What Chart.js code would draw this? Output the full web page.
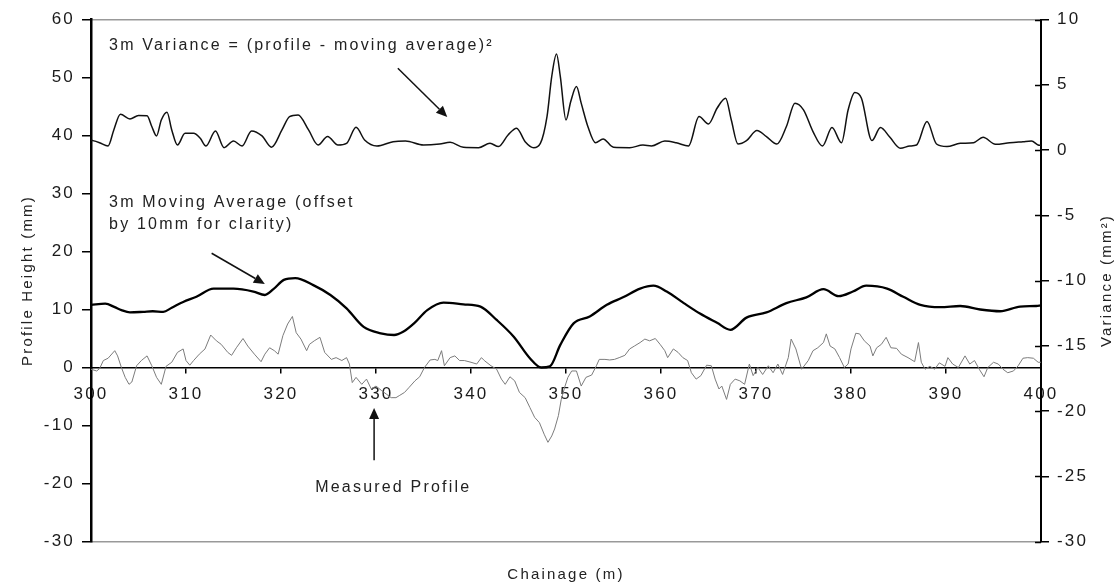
<!DOCTYPE html>
<html>
<head>
<meta charset="utf-8">
<script src="https://cdn.jsdelivr.net/npm/chart.js@4.4.0/dist/chart.umd.min.js"></script>
<style>
  html, body { margin: 0; padding: 0; background: #fff; }
  #wrap { width: 1119px; height: 585px; position: relative; }
</style>
</head>
<body>
<div id="wrap"><canvas id="profileChart"></canvas></div>
<script>
// measured profile (mm) against chainage (m)
const profileChainage = [300.0,300.6,300.9,301.3,301.8,302.5,302.8,303.2,303.6,304.0,304.3,304.8,305.3,305.9,306.4,306.9,307.4,307.9,308.5,309.1,309.7,310.0,310.4,310.8,311.4,312.0,312.6,313.2,313.7,314.4,314.8,315.3,316.0,316.5,317.2,317.9,318.3,318.8,319.3,319.7,320.2,320.7,321.2,321.6,322.1,322.7,323.0,323.5,324.1,324.6,325.3,325.8,326.4,326.9,327.2,327.5,327.9,328.5,329.0,329.5,330.0,330.6,331.1,331.6,332.1,332.5,333.0,333.5,334.1,334.6,335.1,335.7,336.2,336.5,336.9,337.2,337.8,338.3,338.8,339.3,340.0,340.6,341.1,341.4,342.1,342.7,343.2,343.6,344.1,344.6,345.1,345.7,346.2,346.7,347.2,347.7,348.1,348.5,348.8,349.2,349.5,349.9,350.2,350.6,351.1,351.6,352.1,352.7,353.2,353.5,354.1,354.6,355.1,355.6,356.2,356.7,357.2,357.8,358.3,358.8,359.4,359.9,360.4,360.7,361.3,361.8,362.3,362.8,363.2,363.7,364.2,364.8,365.3,365.7,366.1,366.4,366.9,367.3,367.8,368.3,368.8,369.3,369.7,370.2,370.7,371.3,371.8,372.3,372.8,373.4,373.7,374.2,374.8,375.5,376.0,376.5,377.1,377.4,377.8,378.3,378.8,379.3,379.7,380.0,380.5,380.9,381.4,382.0,382.3,382.7,383.2,383.7,384.2,384.8,385.3,386.0,386.7,387.1,387.4,387.8,388.3,388.8,389.3,389.9,390.2,390.7,391.3,392.0,392.5,393.0,393.5,394.0,394.4,395.0,395.5,396.0,396.5,397.1,397.6,398.1,398.6,399.2,399.7,400.0];
const profileHeight = [-0.3,-0.6,-0.2,1.2,1.6,2.9,2.0,0.0,-1.7,-2.9,-2.5,0.3,1.2,2.0,0.3,-1.7,-2.9,0.2,0.9,2.6,3.2,1.2,0.4,1.2,2.3,3.2,5.6,4.6,4.0,2.6,2.1,3.4,5.0,3.7,2.3,1.0,2.3,3.4,2.9,2.3,5.5,7.5,8.8,6.0,4.9,2.9,4.0,4.6,5.2,2.6,1.4,1.7,1.2,1.7,0.6,-2.6,-1.7,-2.9,-2.0,-3.7,-3.2,-4.0,-4.6,-5.2,-5.2,-4.8,-4.3,-3.4,-2.3,-1.6,0.0,1.3,1.4,1.2,2.9,0.3,1.7,2.0,1.2,1.2,0.9,0.6,1.7,1.2,0.3,-0.3,-2.0,-2.9,-1.6,-2.3,-4.3,-5.2,-6.9,-8.6,-9.5,-11.5,-12.9,-11.8,-10.6,-8.3,-5.5,-3.2,-1.7,-0.6,-0.6,-3.2,-1.7,-1.3,0.3,1.4,1.4,1.3,1.4,1.7,2.1,3.2,3.7,4.3,4.9,4.6,5.0,4.0,2.9,1.7,3.2,2.6,1.7,1.2,-0.9,-2.0,-1.4,0.4,0.3,-2.0,-3.7,-3.2,-5.5,-2.9,-2.0,-2.3,-2.9,0.6,-1.4,0.0,-1.2,0.3,-0.9,0.6,-1.2,1.7,4.9,3.2,-0.3,1.2,2.9,3.4,4.3,5.8,3.7,3.2,1.7,0.0,0.6,3.2,5.9,5.8,4.6,3.7,2.0,3.4,4.0,5.2,3.4,3.3,2.3,1.7,1.0,4.3,0.9,-0.3,0.2,-0.3,0.8,0.2,1.7,0.6,0.0,2.0,0.6,1.2,-0.3,-1.6,0.0,0.9,0.6,-0.3,-0.9,-0.6,0.3,1.6,1.7,1.6,0.9,0.9];

// 3m moving average, as plotted (already offset by +10 mm)
const avgChainage = [300.0,301.5,302.5,303.2,304.1,305.5,306.5,307.6,308.5,309.7,311.1,312.9,315.0,317.1,318.3,319.2,320.3,321.5,323.4,325.2,326.9,328.7,330.5,331.9,332.9,334.0,335.4,337.1,339.2,341.0,342.7,344.5,346.2,347.4,348.3,349.4,350.8,352.5,354.3,356.0,357.8,359.2,360.6,362.4,364.1,365.9,367.3,369.0,371.1,373.2,375.3,377.1,378.7,380.2,381.6,383.8,385.5,387.3,389.4,391.5,393.6,395.7,397.8,399.5,400.0];
const avgHeight = [10.8,11.0,10.4,9.9,9.5,9.6,9.7,9.6,10.3,11.3,12.2,13.6,13.6,13.1,12.5,13.5,15.1,15.4,14.2,12.5,10.2,7.0,5.9,5.6,6.2,7.6,9.9,11.2,10.9,10.5,8.2,5.3,1.6,0.0,0.2,3.9,7.6,8.8,10.8,12.1,13.6,14.1,13.1,11.1,9.3,7.7,6.5,8.6,9.5,11.1,12.1,13.5,12.3,13.1,14.1,13.6,12.2,10.8,10.4,10.6,10.0,9.7,10.5,10.6,10.7];

// 3m variance (mm^2), right axis
const varChainage = [300.0,300.2,300.9,301.8,302.4,303.1,304.1,305.0,305.9,306.4,306.9,307.4,308.0,308.5,309.1,309.9,310.8,311.5,312.1,313.1,314.0,315.0,315.9,316.9,318.0,319.0,320.1,320.9,321.8,322.9,323.9,324.9,326.0,326.9,327.9,328.8,330.1,331.8,333.1,335.0,336.7,337.8,339.2,340.8,342.0,342.9,343.9,344.8,345.7,346.6,347.3,348.0,348.5,349.0,349.4,350.0,350.5,351.1,351.6,352.3,353.1,353.9,355.0,356.7,358.1,359.0,360.4,361.6,362.9,364.0,365.0,365.9,366.8,367.4,368.1,369.0,370.1,371.1,372.2,373.2,374.1,375.0,376.0,377.0,378.0,379.0,379.7,380.4,381.1,382.2,383.1,384.1,385.2,386.2,386.9,388.0,389.0,390.1,391.5,392.9,393.9,395.2,396.7,398.1,399.0,399.7,400.0];
const varValue = [0.75,0.72,0.56,0.31,1.54,2.74,2.38,2.64,2.62,1.8,1.08,2.3,2.9,1.54,0.38,1.28,1.28,0.9,0.31,1.46,0.18,0.69,0.31,1.46,1.08,0.21,1.54,2.56,2.69,1.54,0.38,1.03,0.38,0.51,1.74,0.77,0.31,0.64,0.69,0.38,0.46,0.59,0.21,0.18,0.51,0.26,1.15,1.67,0.64,0.18,0.51,2.56,5.64,7.36,5.64,2.3,3.72,4.87,3.59,1.8,0.56,0.85,0.21,0.18,0.38,0.31,0.69,0.56,0.31,2.56,2.0,3.2,3.97,2.3,0.46,0.72,1.49,1.03,0.46,1.8,3.59,3.08,1.41,0.31,1.72,0.56,3.08,4.41,3.97,0.72,1.72,0.97,0.13,0.31,0.38,2.18,0.46,0.26,0.51,0.56,0.97,0.44,0.56,0.64,0.69,0.38,0.35];

// text labels on the plot, placed in chainage / profile-height units
const notes = [
  { text: '3m Variance = (profile - moving average)\u00B2', x: 301.9, y: 54.7 },
  { text: '3m Moving Average (offset', x: 301.9, y: 27.7 },
  { text: 'by 10mm for clarity)', x: 301.9, y: 23.9 },
  { text: 'Measured Profile', x: 323.6, y: -21.5 }
];
const arrows = [
  { from: [332.3, 51.6], to: [337.5, 43.2] },
  { from: [312.7, 19.7], to: [318.3, 14.4] },
  { from: [329.8, -16.0], to: [329.8, -7.0] }
];
const rightTitle = 'Variance (mm\u00B2)';

const FONT = '"Liberation Sans", Arial, sans-serif';
const SPACING = '2.2px';

function pairs(xs, ys) {
  return xs.map((x, i) => ({ x: x, y: ys[i] }));
}

const spacingPlugin = {
  id: 'spacing',
  beforeLayout(chart) { chart.ctx.letterSpacing = SPACING; },
  beforeDraw(chart) { chart.ctx.letterSpacing = SPACING; }
};

const notesPlugin = {
  id: 'notes',
  afterDraw(chart) {
    const ctx = chart.ctx;
    const xs = chart.scales.x, ys = chart.scales.y, vs = chart.scales.y2;
    ctx.save();
    ctx.letterSpacing = SPACING;
    ctx.font = '16px ' + FONT;
    ctx.fillStyle = '#222';
    ctx.textAlign = 'left';
    ctx.textBaseline = 'alphabetic';
    notes.forEach(n => ctx.fillText(n.text, xs.getPixelForValue(n.x), ys.getPixelForValue(n.y)));

    ctx.strokeStyle = '#111';
    ctx.fillStyle = '#111';
    ctx.lineWidth = 1.5;
    arrows.forEach(a => {
      const x1 = xs.getPixelForValue(a.from[0]), y1 = ys.getPixelForValue(a.from[1]);
      const x2 = xs.getPixelForValue(a.to[0]), y2 = ys.getPixelForValue(a.to[1]);
      const ang = Math.atan2(y2 - y1, x2 - x1);
      const head = 11, wide = 5;
      const bx = x2 - head * Math.cos(ang), by = y2 - head * Math.sin(ang);
      ctx.beginPath();
      ctx.moveTo(x1, y1);
      ctx.lineTo(bx, by);
      ctx.stroke();
      ctx.beginPath();
      ctx.moveTo(x2, y2);
      ctx.lineTo(bx + wide * Math.sin(ang), by - wide * Math.cos(ang));
      ctx.lineTo(bx - wide * Math.sin(ang), by + wide * Math.cos(ang));
      ctx.closePath();
      ctx.fill();
    });

    // right axis ticks cross the axis line
    ctx.strokeStyle = '#000';
    vs.ticks.forEach(t => {
      const py = Math.round(vs.getPixelForValue(t.value)) + 0.5;
      ctx.beginPath();
      ctx.moveTo(vs.left - 6, py);
      ctx.lineTo(vs.left, py);
      ctx.stroke();
    });

    // right axis title reads bottom to top, like the left one
    ctx.translate(chart.width - 12, (chart.chartArea.top + chart.chartArea.bottom) / 2);
    ctx.rotate(-Math.PI / 2);
    ctx.font = '15px ' + FONT;
    ctx.fillStyle = '#222';
    ctx.textAlign = 'center';
    ctx.textBaseline = 'middle';
    ctx.fillText(rightTitle, 0, 0);
    ctx.restore();
  }
};

const tickFont = { family: FONT, size: 17 };
const titleFont = { family: FONT, size: 15 };

new Chart(document.getElementById('profileChart'), {
  type: 'line',
  data: {
    datasets: [
      {
        label: 'Measured Profile',
        data: pairs(profileChainage, profileHeight),
        borderColor: '#7c7c7c',
        borderWidth: 1,
        xAxisID: 'x',
        yAxisID: 'y',
        tension: 0
      },
      {
        label: '3m Moving Average',
        data: pairs(avgChainage, avgHeight),
        borderColor: '#000',
        borderWidth: 2.3,
        xAxisID: 'x',
        yAxisID: 'y',
        cubicInterpolationMode: 'monotone'
      },
      {
        label: '3m Variance',
        data: pairs(varChainage, varValue),
        borderColor: '#111',
        borderWidth: 1.5,
        xAxisID: 'x',
        yAxisID: 'y2',
        cubicInterpolationMode: 'monotone'
      }
    ]
  },
  options: {
    responsive: true,
    maintainAspectRatio: false,
    animation: false,
    parsing: false,
    layout: { padding: 0 },
    elements: { point: { radius: 0 } },
    plugins: { legend: { display: false }, tooltip: { enabled: false } },
    scales: {
      x: {
        type: 'linear', min: 300, max: 400,
        position: { y: 0 },
        ticks: { stepSize: 10, font: tickFont, color: '#1a1a1a', padding: 12, maxRotation: 0, autoSkip: false },
        grid: { drawOnChartArea: false, tickLength: 5, color: '#000', lineWidth: 1.5 },
        border: { color: '#000', width: 1.5 },
        afterFit(s) { s.height = 0; }
      },
      xTop: {
        type: 'linear', min: 300, max: 400, position: 'top',
        ticks: { display: false }, grid: { display: false },
        border: { color: '#999', width: 1.5 },
        afterFit(s) { s.height = 19.5; }
      },
      xBottom: {
        type: 'linear', min: 300, max: 400, position: 'bottom',
        ticks: { display: false }, grid: { display: false },
        border: { color: '#999', width: 1.5 },
        title: { display: true, text: 'Chainage (m)', font: titleFont, color: '#222', padding: { top: 0, bottom: 1 } },
        afterFit(s) { s.height = 43.5; }
      },
      y: {
        min: -30, max: 60, position: 'left',
        ticks: { stepSize: 10, font: tickFont, color: '#1a1a1a', padding: 7 },
        grid: { drawOnChartArea: false, tickLength: 9, color: '#000', lineWidth: 1.5 },
        border: { color: '#000', width: 2.5 },
        title: { display: true, text: 'Profile Height (mm)', font: titleFont, color: '#222', padding: { top: 19, bottom: 0 } },
        afterFit(s) { s.width = 91; }
      },
      y2: {
        min: -30, max: 10, position: 'right',
        ticks: { stepSize: 5, font: tickFont, color: '#1a1a1a', padding: 8 },
        grid: { drawOnChartArea: false, tickLength: 8, color: '#000', lineWidth: 1.5 },
        border: { color: '#000', width: 2 },
        afterFit(s) { s.width = 78; }
      }
    }
  },
  plugins: [spacingPlugin, notesPlugin]
});
</script>
</body>
</html>
